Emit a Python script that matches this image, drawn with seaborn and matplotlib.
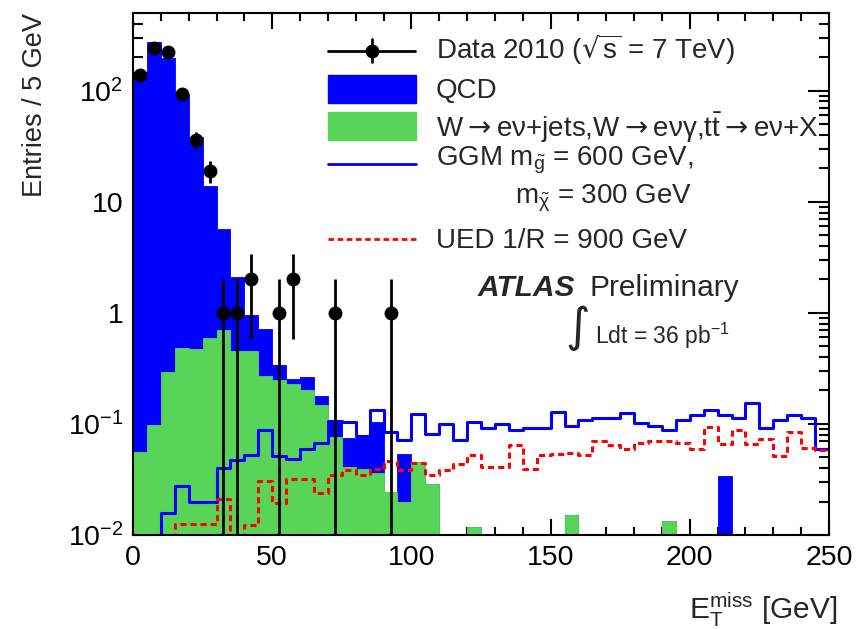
import numpy as np
import pandas as pd
import matplotlib
matplotlib.use("Agg")
import matplotlib.pyplot as plt
import seaborn as sns
from matplotlib.ticker import MultipleLocator, FixedLocator, FixedFormatter, LogLocator, NullFormatter
from matplotlib.patches import Rectangle
from matplotlib.lines import Line2D

# 5 GeV bins from 0 to 250 GeV
bin_edges = list(range(0, 255, 5))
bin_centers = [e + 2.5 for e in bin_edges[:-1]]

# QCD multijet background (entries per bin)
qcd = [145.9, 271.9, 195.7, 92.5, 37.5, 13.2, 4.95, 1.64, 0.50, 0.444,
       0.091, 0.027, 0.063, 0.031, 0.032, 0.034, 0.036, 0.068, 0.0, 0.034,
       0.0, 0.0, 0.0, 0.0, 0.0, 0.0, 0.0, 0.0, 0.0, 0.0,
       0.0, 0.0, 0.0, 0.0, 0.0, 0.0, 0.0, 0.0, 0.0, 0.0,
       0.0, 0.0, 0.034, 0.0, 0.0, 0.0, 0.0, 0.0, 0.0, 0.0]

# W -> e nu + jets, W -> e nu gamma, ttbar -> e nu + X
w_bkg = [0.0557, 0.097, 0.292, 0.483, 0.473, 0.594, 0.70, 0.457, 0.457, 0.272,
         0.249, 0.227, 0.200, 0.147, 0.076, 0.041, 0.039, 0.0362, 0.0245, 0.0197,
         0.045, 0.0285, 0.0, 0.0, 0.0119, 0.0, 0.0, 0.0, 0.0, 0.0,
         0.0, 0.0152, 0.0, 0.0, 0.0, 0.0, 0.0, 0.0, 0.0134, 0.0,
         0.0, 0.0, 0.0, 0.0, 0.0, 0.0, 0.0, 0.0, 0.0, 0.0]

# GGM signal, m_gluino = 600 GeV, m_neutralino = 300 GeV
ggm = [0.0, 0.0, 0.0158, 0.0277, 0.0198, 0.0198, 0.0401, 0.0476, 0.052, 0.0874,
       0.0515, 0.048, 0.0597, 0.068, 0.106, 0.104, 0.0774, 0.133, 0.084, 0.072,
       0.124, 0.0806, 0.1, 0.0711, 0.104, 0.0918, 0.1, 0.0874, 0.0918, 0.0918,
       0.127, 0.0958, 0.108, 0.113, 0.112, 0.125, 0.102, 0.0958, 0.0886, 0.109,
       0.121, 0.133, 0.121, 0.113, 0.154, 0.0918, 0.109, 0.121, 0.113, 0.0597]

# UED signal, 1/R = 900 GeV
ued = [0.0, 0.0, 0.0, 0.0125, 0.0125, 0.0125, 0.0211, 0.0, 0.0122, 0.0305,
       0.0194, 0.0322, 0.0322, 0.0237, 0.0348, 0.0383, 0.0345, 0.0396, 0.046, 0.0383,
       0.0446, 0.0348, 0.0387, 0.0434, 0.052, 0.041, 0.041, 0.0641, 0.0396, 0.052,
       0.0541, 0.0551, 0.053, 0.0696, 0.0641, 0.0597, 0.067, 0.0696, 0.0705, 0.068,
       0.059, 0.093, 0.0664, 0.089, 0.0664, 0.0737, 0.0514, 0.085, 0.061, 0.0578]

# Data 2010, non-empty bins
data_x = [2.5, 7.5, 12.5, 17.5, 22.5, 27.5, 32.5, 37.5, 42.5, 52.5, 57.5, 72.5, 92.5]
data_n = [137, 241, 222, 93, 36, 19, 1, 1, 2, 1, 2, 1, 1]

y_ticks = [1e-2, 1e-1, 1, 10, 100]
y_tick_labels = [r"$10^{-2}$", r"$10^{-1}$", "1", "10", r"$10^{2}$"]

C_QCD = "#0000ff"
C_W = "#58d558"
C_GGM = "#0000ff"
C_UED = "#ff0000"

sns.set_style("ticks")
plt.rcParams.update({
    "font.family": ["Liberation Sans", "DejaVu Sans"],
    "mathtext.fontset": "dejavusans",
    "mathtext.default": "regular",
    "axes.linewidth": 1.5,
    "xtick.direction": "in",
    "ytick.direction": "in",
    "xtick.top": True,
    "ytick.right": True,
    "axes.edgecolor": "black",
    "xtick.color": "black",
    "ytick.color": "black",
})

fig = plt.figure(figsize=(8.56, 6.29), dpi=100)
ax = fig.add_axes([133 / 856, 1 - 535 / 629, 696 / 856, 522 / 629])

hist = pd.DataFrame({
    "met": bin_centers,
    "total": np.array(qcd) + np.array(w_bkg),
    "w": w_bkg,
    "ggm": ggm,
    "ued": ued,
})

# stacked backgrounds: QCD on top of the electroweak component
sns.histplot(data=hist, x="met", weights="total", bins=bin_edges, element="bars",
             fill=True, color=C_QCD, edgecolor=C_QCD, linewidth=0.6, alpha=1, ax=ax)
sns.histplot(data=hist, x="met", weights="w", bins=bin_edges, element="bars",
             fill=True, color=C_W, edgecolor=C_W, linewidth=0.6, alpha=1, ax=ax)

# signal expectations
sns.histplot(data=hist, x="met", weights="ggm", bins=bin_edges, element="step",
             fill=False, color=C_GGM, linewidth=2.2, ax=ax)
sns.histplot(data=hist, x="met", weights="ued", bins=bin_edges, element="step",
             fill=False, color=C_UED, linewidth=2.2, linestyle=(0, (2.0, 1.3)), ax=ax)

# data points with Poisson errors
data_n = np.array(data_n, dtype=float)
ax.errorbar(data_x, data_n, yerr=np.sqrt(data_n), fmt="o", color="black",
            ms=9, elinewidth=2.0, capsize=0, zorder=5)

ax.set_yscale("log")
ax.set_xlim(0, 250)
ax.set_ylim(1e-2, 500)

ax.xaxis.set_major_locator(MultipleLocator(50))
ax.xaxis.set_minor_locator(MultipleLocator(10))
ax.yaxis.set_major_locator(FixedLocator(y_ticks))
ax.yaxis.set_major_formatter(FixedFormatter(y_tick_labels))
ax.yaxis.set_minor_locator(LogLocator(base=10, subs=np.arange(2, 10), numticks=20))
ax.yaxis.set_minor_formatter(NullFormatter())

ax.tick_params(axis="x", which="major", length=11.5, width=1.5, labelsize=20.5, pad=7)
ax.tick_params(axis="x", which="minor", length=5.8, width=1.5)
ax.tick_params(axis="y", which="major", length=15, width=1.5, labelsize=20.5, pad=7)
ax.tick_params(axis="y", which="minor", length=7.5, width=1.5)

ax.set_xlabel(r"$E_{T}^{miss}$ [GeV]", fontsize=21.5, loc="right", labelpad=14)
ax.xaxis.label.set_x(1 + 8 / 696)
ax.set_ylabel("Entries / 5 GeV", fontsize=19.5, loc="top", labelpad=14)
for s in ax.spines.values():
    s.set_visible(True)
    s.set_linewidth(1.5)


def fx(px):
    return (px - 133) / 696


def fy(py):
    return (535 - py) / 522


T = ax.transAxes
fs = 20

# legend keys
ax.add_line(Line2D([fx(328), fx(415)], [fy(50.5), fy(50.5)], color="black", lw=2, transform=T))
ax.add_line(Line2D([fx(371.5), fx(371.5)], [fy(39), fy(62)], color="black", lw=2, transform=T))
ax.add_line(Line2D([fx(371.5)], [fy(50.5)], marker="o", ms=9, color="black", transform=T))
ax.add_patch(Rectangle((fx(328), fy(103)), 88 / 696, 28 / 522, color=C_QCD, transform=T))
ax.add_patch(Rectangle((fx(328), fy(140)), 88 / 696, 28 / 522, color=C_W, transform=T))
ax.add_line(Line2D([fx(328), fx(416)], [fy(164), fy(164)], color=C_GGM, lw=2, transform=T))
ax.add_line(Line2D([fx(328), fx(416)], [fy(239), fy(239)], color=C_UED, lw=2,
                   linestyle=(0, (2.0, 1.3)), transform=T))

arrow = r"$\mathsf{\rightarrow}$"
ax.text(fx(436), fy(59.3), r"Data 2010 ($\sqrt{s}$ = 7 TeV)", fontsize=fs, va="baseline", transform=T)
ax.text(fx(436), fy(97.7), "QCD", fontsize=fs, va="baseline", transform=T)
ax.text(fx(436), fy(137.3),
        "W" + arrow + "eν+jets,W" + arrow + r"eνγ,t$\bar{t}$" + arrow + "eν+X",
        fontsize=fs, va="baseline", transform=T)
ax.text(fx(436), fy(165), r"GGM m$_{\tilde{g}}$ = 600 GeV,", fontsize=fs, va="baseline", transform=T)
ax.text(fx(515), fy(203.3), r"m$_{\tilde{\chi}}$ = 300 GeV", fontsize=fs, va="baseline", transform=T)
ax.text(fx(436), fy(248.3), "UED 1/R = 900 GeV", fontsize=fs, va="baseline", transform=T)

ax.text(fx(478), fy(296), "ATLAS", fontsize=21.5, fontweight="bold", fontstyle="italic",
        va="baseline", transform=T)
ax.text(fx(590), fy(296), "Preliminary", fontsize=21.5, va="baseline", transform=T)
ax.text(fx(578), fy(328), "∫", fontsize=34, family="DejaVu Sans", ha="center", va="center", transform=T)
ax.text(fx(595), fy(344), r"Ldt = 36 pb$^{-1}$", fontsize=16.5, va="baseline", transform=T)

fig.savefig("out.png", dpi=100)
